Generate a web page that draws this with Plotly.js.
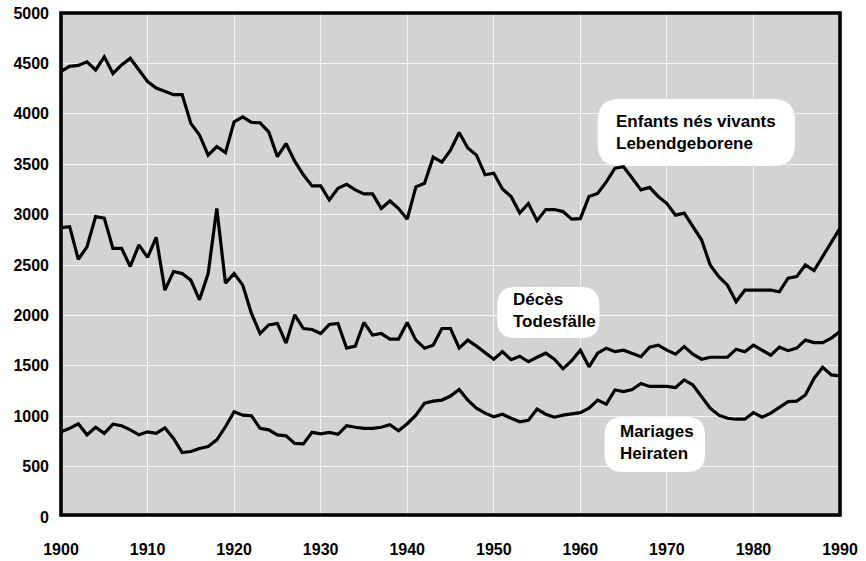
<!DOCTYPE html>
<html>
<head>
<meta charset="utf-8">
<script src="https://cdn.plot.ly/plotly-3.0.1.min.js"></script>
<style>html,body{margin:0;padding:0;background:#fff;}#chart{width:866px;height:561px;}</style>
</head>
<body>
<div id="chart"></div>
<script>
// ---- data ----
const years = [];
for (let y = 1900; y <= 1990; y++) years.push(y);

const births = [
  4420, 4470, 4480, 4515, 4435, 4565, 4400, 4485, 4550, 4435,
  4320, 4255, 4220, 4190, 4190, 3905, 3790, 3590, 3675, 3615,
  3920, 3970, 3915, 3910, 3820, 3575, 3705, 3530, 3395, 3285,
  3285, 3145, 3260, 3300, 3245, 3205, 3205, 3060, 3135, 3060,
  2955, 3275, 3310, 3570, 3520, 3640, 3815, 3660, 3590, 3395,
  3410, 3255, 3180, 3015, 3110, 2940, 3050, 3050, 3030, 2955,
  2960, 3180, 3210, 3325, 3460, 3475, 3360, 3245, 3270, 3180,
  3110, 2995, 3015, 2880, 2750, 2500, 2385, 2300, 2135, 2250,
  2250, 2250, 2250, 2235, 2370, 2385, 2500, 2445, 2585, 2715,
  2865
];

const deaths = [
  2870, 2880, 2555, 2680, 2980, 2965, 2665, 2665, 2485, 2700,
  2575, 2775, 2250, 2435, 2415, 2350, 2155, 2415, 3060, 2320,
  2415, 2300, 2020, 1820, 1905, 1920, 1725, 2005, 1870, 1860,
  1820, 1910, 1920, 1675, 1695, 1930, 1805, 1820, 1765, 1765,
  1930, 1755, 1675, 1705, 1870, 1870, 1675, 1755, 1695, 1625,
  1565, 1640, 1560, 1595, 1540, 1585, 1625, 1565, 1470, 1550,
  1655, 1490, 1625, 1675, 1640, 1655, 1625, 1590, 1685, 1705,
  1655, 1615, 1690, 1615, 1565, 1585, 1585, 1585, 1665, 1640,
  1705, 1655, 1605, 1685, 1650, 1675, 1755, 1730, 1730, 1775,
  1840
];

const marriages = [
  845, 880, 925, 815, 890, 830, 920, 905, 865, 815,
  845, 830, 885, 780, 640, 650, 680, 700, 765, 895,
  1045, 1010, 1005, 880, 865, 815, 805, 730, 725, 840,
  825, 840, 820, 905, 890, 880, 880, 890, 915, 855,
  925, 1010, 1130, 1150, 1160, 1200, 1265, 1160, 1080, 1030,
  995, 1020, 980, 945, 960, 1070, 1020, 990, 1010, 1020,
  1035, 1080, 1160, 1120, 1260, 1245, 1265, 1325, 1295, 1295,
  1295, 1285, 1360, 1310, 1195, 1080, 1010, 980, 970, 970,
  1035, 990, 1030, 1090, 1145, 1150, 1210, 1375, 1485, 1410,
  1400
];

const seriesLabels = [
  "Enfants nés vivants<br>Lebendgeborene",
  "Décès<br>Todesfälle",
  "Mariages<br>Heiraten"
];
const yTicks = [0, 500, 1000, 1500, 2000, 2500, 3000, 3500, 4000, 4500, 5000];
const xTicks = [1900, 1910, 1920, 1930, 1940, 1950, 1960, 1970, 1980, 1990];

// ---- layout helpers ----
const PX_PER_YEAR = 779 / 90;
const PX_PER_UNIT = 504 / 5000;
function roundedBox(x0, x1, y0, y1, r) {
  const rx = r / PX_PER_YEAR, ry = r / PX_PER_UNIT;
  return {
    type: 'path', xref: 'x', yref: 'y', layer: 'between',
    fillcolor: '#ffffff', line: {width: 0},
    path: `M ${x0+rx},${y0} L ${x1-rx},${y0} Q ${x1},${y0} ${x1},${y0+ry} ` +
          `L ${x1},${y1-ry} Q ${x1},${y1} ${x1-rx},${y1} L ${x0+rx},${y1} ` +
          `Q ${x0},${y1} ${x0},${y1-ry} L ${x0},${y0+ry} Q ${x0},${y0} ${x0+rx},${y0} Z`
  };
}

const lineStyle = {color: '#000000', width: 3.2};
const traces = [
  {x: years, y: births, type: 'scatter', mode: 'lines', line: lineStyle, hoverinfo: 'skip'},
  {x: years, y: deaths, type: 'scatter', mode: 'lines', line: lineStyle, hoverinfo: 'skip'},
  {x: years, y: marriages, type: 'scatter', mode: 'lines', line: lineStyle, hoverinfo: 'skip'}
];

const tickFont = {family: 'Liberation Sans, Arial, sans-serif', size: 16, color: '#000', weight: 'bold'};
const labelFont = {family: 'Liberation Sans, Arial, sans-serif', size: 17, color: '#000', weight: 'bold'};

const layout = {
  width: 866, height: 561,
  margin: {l: 61, r: 26, t: 13, b: 44, pad: 0},
  paper_bgcolor: '#ffffff',
  plot_bgcolor: '#d3d3d3',
  showlegend: false,
  xaxis: {
    range: [1900, 1990], tickvals: xTicks, ticktext: xTicks.map(String),
    showgrid: true, gridcolor: 'rgba(255,255,255,0.75)', gridwidth: 1,
    zeroline: false, showline: false, ticks: '',
    ticklabelstandoff: 21, tickfont: tickFont, fixedrange: true
  },
  yaxis: {
    range: [0, 5000], tickvals: yTicks, ticktext: yTicks.map(String),
    showgrid: true, gridcolor: 'rgba(255,255,255,0.75)', gridwidth: 1,
    zeroline: false, showline: false, ticks: '',
    ticklabelstandoff: 11, tickfont: tickFont, fixedrange: true
  },
  shapes: [
    roundedBox(1962.0, 1984.8, 3482, 4147, 22),
    roundedBox(1950.4, 1962.2, 1776, 2282, 18),
    roundedBox(1962.8, 1974.4, 446, 992, 18),
    {type: 'rect', xref: 'paper', yref: 'paper', x0: 0, x1: 1, y0: 0.004, y1: 1,
     line: {color: '#000', width: 3.6}, layer: 'above'}
  ],
  annotations: [
    {x: 1963.9, y: 3819, xref: 'x', yref: 'y', text: seriesLabels[0], showarrow: false,
     xanchor: 'left', yanchor: 'middle', align: 'left', font: labelFont},
    {x: 1952.0, y: 2044, xref: 'x', yref: 'y', text: seriesLabels[1], showarrow: false,
     xanchor: 'left', yanchor: 'middle', align: 'left', font: labelFont},
    {x: 1964.3, y: 737, xref: 'x', yref: 'y', text: seriesLabels[2], showarrow: false,
     xanchor: 'left', yanchor: 'middle', align: 'left', font: labelFont}
  ]
};

Plotly.newPlot('chart', traces, layout, {staticPlot: true, displayModeBar: false});
</script>
</body>
</html>
